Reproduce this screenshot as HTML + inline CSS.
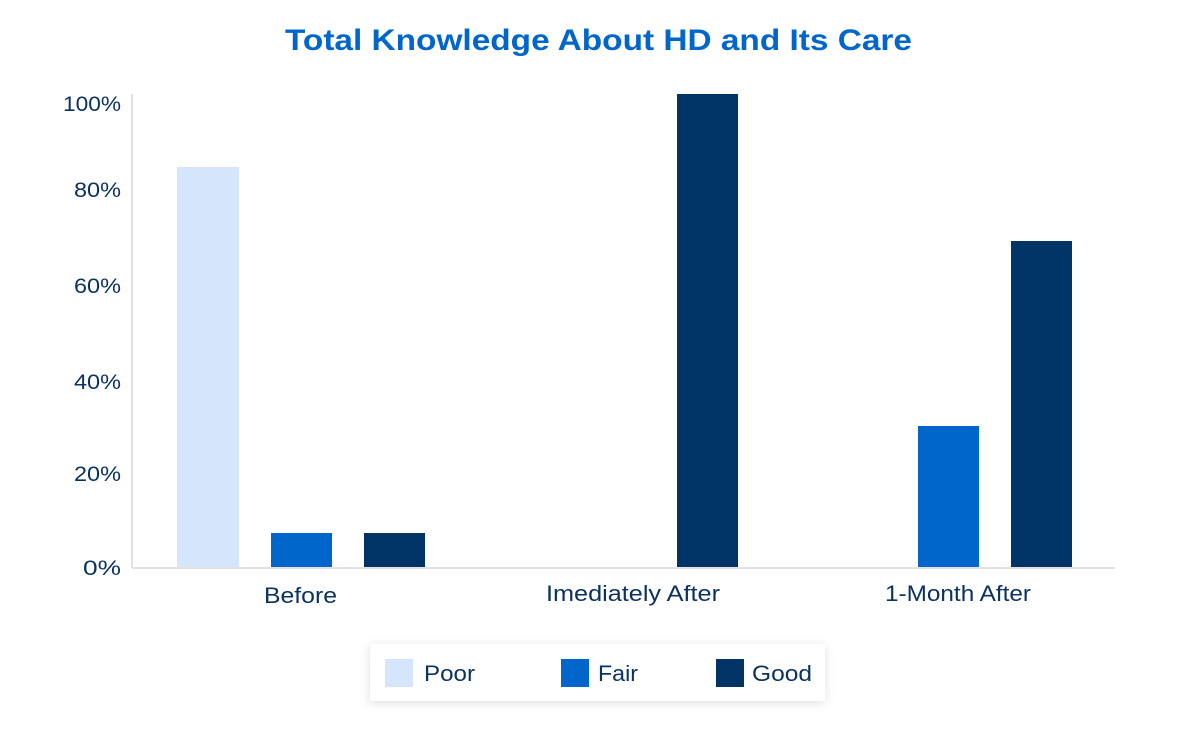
<!DOCTYPE html>
<html><head><meta charset="utf-8"><style>
body{margin:0;background:#fff;}
svg text{font-family:"Liberation Sans",sans-serif;}
</style></head><body>
<svg width="1200" height="731" xmlns="http://www.w3.org/2000/svg">
<defs><filter id="sh" x="-10%" y="-50%" width="120%" height="200%"><feDropShadow dx="0" dy="2" stdDeviation="5" flood-color="#000" flood-opacity="0.12"/></filter></defs>
<rect width="1200" height="731" fill="#fff"/>
<text x="285" y="50" textLength="627" lengthAdjust="spacingAndGlyphs" font-size="30" font-weight="bold" fill="#0066cc">Total Knowledge About HD and Its Care</text>
<g font-size="21" fill="#0c3260">
<text x="63" y="111" textLength="58" lengthAdjust="spacingAndGlyphs">100%</text>
<text x="74" y="197" textLength="47" lengthAdjust="spacingAndGlyphs">80%</text>
<text x="74" y="293" textLength="47" lengthAdjust="spacingAndGlyphs">60%</text>
<text x="74" y="389" textLength="47" lengthAdjust="spacingAndGlyphs">40%</text>
<text x="74" y="481" textLength="47" lengthAdjust="spacingAndGlyphs">20%</text>
<text x="83" y="575" textLength="38" lengthAdjust="spacingAndGlyphs">0%</text>
</g>
<line x1="132" y1="94" x2="132" y2="568" stroke="#e2e2e2" stroke-width="2"/>
<line x1="132" y1="568" x2="1115" y2="568" stroke="#e2e2e2" stroke-width="2"/>
<rect x="177" y="167" width="62" height="400" fill="#d5e5fb"/>
<rect x="271" y="533" width="61" height="34" fill="#0066cc"/>
<rect x="364" y="533" width="61" height="34" fill="#003366"/>
<rect x="677" y="94" width="61" height="473" fill="#003366"/>
<rect x="918" y="426" width="61" height="141" fill="#0066cc"/>
<rect x="1011" y="241" width="61" height="326" fill="#003366"/>
<g font-size="22" fill="#0c3260">
<text x="264" y="603" textLength="73" lengthAdjust="spacingAndGlyphs">Before</text>
<text x="546" y="601" textLength="174" lengthAdjust="spacingAndGlyphs">Imediately After</text>
<text x="885" y="601" textLength="146" lengthAdjust="spacingAndGlyphs">1-Month After</text>
</g>
<rect x="370" y="644" width="455" height="57" fill="#fff" filter="url(#sh)"/>
<rect x="385" y="659" width="28" height="28" fill="#d5e5fb"/>
<rect x="561" y="659" width="28" height="28" fill="#0066cc"/>
<rect x="716" y="659" width="28" height="28" fill="#003366"/>
<g font-size="22" fill="#0c3260">
<text x="424" y="681" textLength="51" lengthAdjust="spacingAndGlyphs">Poor</text>
<text x="598" y="681" textLength="40" lengthAdjust="spacingAndGlyphs">Fair</text>
<text x="752" y="681" textLength="60" lengthAdjust="spacingAndGlyphs">Good</text>
</g>
</svg>
</body></html>
